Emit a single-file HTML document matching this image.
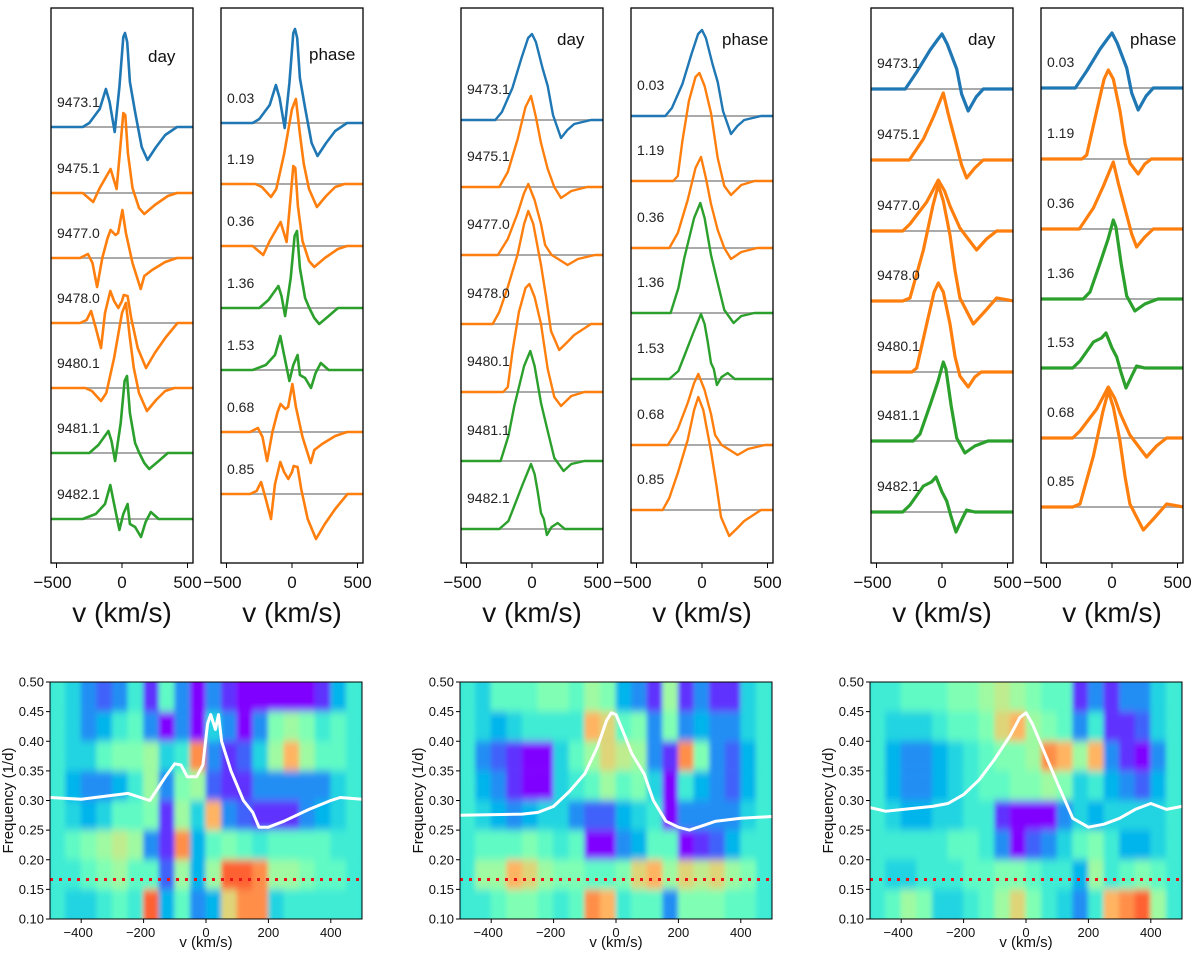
<!DOCTYPE html>
<html><head><meta charset="utf-8"><style>
html,body{margin:0;padding:0;background:#fff;}
svg{display:block;font-family:"Liberation Sans","DejaVu Sans",sans-serif;}
</style></head><body>
<svg id="fig" width="1200" height="954" viewBox="0 0 1200 954" xmlns="http://www.w3.org/2000/svg">
<defs>
<filter id="blur" x="-5%" y="-5%" width="110%" height="110%"><feGaussianBlur stdDeviation="2.5 4" edgeMode="duplicate"/></filter>
<clipPath id="clipH0"><rect x="50" y="682" width="312" height="237"/></clipPath>
<clipPath id="clipH1"><rect x="460" y="682" width="312" height="237"/></clipPath>
<clipPath id="clipH2"><rect x="870" y="682" width="312" height="237"/></clipPath>
</defs>
</svg>
<script>
// ---------- DATA ----------
const dayLabels = ["9473.1","9475.1","9477.0","9478.0","9480.1","9481.1","9482.1"];
const dayColors = ["#1f77b4","#ff7f0e","#ff7f0e","#ff7f0e","#ff7f0e","#2ca02c","#2ca02c"];
const phaseLabels = ["0.03","1.19","0.36","1.36","1.53","0.68","0.85"];
const phaseOrder = [0,4,1,5,6,2,3];
const topTicks = [-500,0,500];
const hmXTicks = [-400,-200,0,200,400];
const hmYTicks = [0.10,0.15,0.20,0.25,0.30,0.35,0.40,0.45,0.50];
const hmVelEdges = [-500,-450,-400,-350,-300,-250,-200,-150,-100,-50,0,50,100,150,200,250,300,350,400,450];
const hmFreqTops = [0.50,0.45,0.40,0.35,0.30,0.25,0.20,0.15];
const periodFreq = 0.1667;

const set1Profiles = [
 [[-540,0],[-300,0],[-250,4],[-170,18],[-123,38],[-95,25],[-56,-5],[-20,40],[10,90],[23,94],[40,85],[60,45],[100,15],[150,-20],[195,-33],[260,-20],[330,-8],[420,0],[550,0]],
 [[-540,0],[-300,0],[-220,-9],[-170,5],[-87,24],[-41,4],[-10,50],[10,80],[25,78],[45,40],[80,5],[130,-15],[170,-21],[250,-12],[350,-3],[420,0],[550,0]],
 [[-540,0],[-320,0],[-260,4],[-225,-5],[-190,-29],[-150,0],[-110,20],[-87,28],[-50,23],[-30,25],[3,48],[30,25],[80,-5],[143,-31],[170,-18],[230,-12],[330,-4],[420,0],[550,0]],
 [[-540,0],[-320,0],[-270,3],[-236,12],[-200,-5],[-160,-25],[-130,10],[-89,32],[-60,22],[-28,15],[0,22],[13,28],[43,27],[70,5],[120,-25],[183,-45],[250,-30],[330,-15],[424,0],[550,0]],
 [[-540,0],[-280,0],[-230,-3],[-160,-13],[-120,-5],[-60,30],[0,75],[30,85],[60,50],[90,20],[130,-5],[190,-23],[260,-12],[330,-3],[400,0],[550,0]],
 [[-540,0],[-250,0],[-180,8],[-104,22],[-80,12],[-53,-8],[-10,30],[20,72],[38,77],[60,40],[100,10],[132,0],[170,-10],[208,-16],[280,-8],[350,0],[550,0]],
 [[-540,0],[-300,0],[-200,5],[-130,15],[-89,34],[-60,15],[-20,-11],[10,5],[43,15],[60,-5],[100,-8],[145,-18],[180,-3],[220,7],[280,0],[550,0]]
];
const set2Profiles = [
 [[-540,0],[-280,0],[-230,8],[-150,32],[-80,62],[-30,82],[0,86],[30,78],[80,52],[120,34],[160,5],[221,-18],[270,-10],[322,-4],[450,0],[550,0]],
 [[-540,0],[-250,0],[-185,15],[-109,48],[-50,80],[-8,91],[30,70],[69,44],[120,18],[170,0],[221,-11],[300,-4],[420,0],[550,0]],
 [[-540,0],[-260,0],[-185,16],[-109,42],[-60,62],[-28,71],[20,55],[69,31],[100,10],[150,0],[200,-4],[272,-10],[350,-4],[480,0],[550,0]],
 [[-540,0],[-300,0],[-250,12],[-185,37],[-109,70],[-60,100],[-28,113],[10,100],[69,59],[110,25],[145,-7],[208,-26],[270,-18],[322,-11],[450,0],[550,0]],
 [[-540,0],[-220,0],[-185,5],[-150,40],[-100,80],[-50,104],[-20,108],[20,95],[69,68],[120,23],[170,-5],[221,-14],[300,-4],[400,0],[550,0]],
 [[-540,0],[-240,0],[-180,25],[-135,55],[-60,95],[-13,110],[20,95],[69,58],[120,30],[170,3],[241,-10],[300,-3],[400,0],[550,0]],
 [[-540,0],[-250,0],[-180,8],[-135,23],[-70,45],[-8,65],[20,55],[43,38],[69,16],[90,10],[114,-6],[150,2],[196,6],[250,0],[550,0]]
];
const set3Profiles = [
 [[-540,0],[-280,0],[-193,17],[-91,39],[-30,50],[0,55],[40,45],[112,20],[150,-5],[200,-22],[260,-8],[315,0],[550,0]],
 [[-540,0],[-250,0],[-142,21],[-66,43],[10,67],[50,45],[112,14],[150,-5],[188,-18],[250,-8],[315,0],[550,0]],
 [[-540,0],[-300,0],[-244,7],[-117,29],[-28,51],[20,40],[61,25],[137,3],[200,-8],[264,-19],[340,-8],[417,0],[550,0]],
 [[-540,0],[-300,0],[-244,3],[-142,51],[-70,95],[-28,116],[10,100],[61,66],[100,30],[137,3],[239,-23],[330,-10],[417,3],[550,0]],
 [[-540,0],[-230,0],[-193,4],[-117,48],[-60,80],[-28,89],[10,80],[61,48],[100,15],[137,-4],[200,-15],[250,-5],[300,0],[550,0]],
 [[-540,0],[-220,0],[-168,7],[-91,36],[-30,60],[10,79],[30,72],[70,35],[112,3],[175,-12],[250,-5],[350,0],[550,0]],
 [[-540,0],[-300,0],[-244,7],[-142,26],[-80,30],[-46,35],[0,20],[36,11],[70,-5],[107,-20],[150,-8],[188,2],[250,0],[550,0]]
];
const set1Mean = [[-500,.305],[-400,.302],[-250,.312],[-180,.30],[-130,.34],[-100,.362],[-80,.36],[-60,.34],[-30,.34],[-10,.36],[5,.43],[15,.445],[30,.42],[40,.445],[50,.40],[80,.35],[120,.30],[150,.28],[170,.255],[200,.255],[250,.265],[330,.285],[400,.30],[430,.305],[500,.302]];
const set2Mean = [[-500,.275],[-300,.277],[-250,.28],[-200,.29],[-150,.315],[-100,.345],[-60,.39],[-30,.435],[-15,.448],[0,.445],[20,.42],[50,.38],[90,.345],[120,.30],[160,.265],[200,.255],[235,.25],[280,.258],[320,.265],[400,.27],[500,.273]];
const set3Mean = [[-500,.288],[-450,.282],[-300,.29],[-250,.295],[-200,.31],[-150,.335],[-100,.37],[-50,.41],[-20,.44],[0,.448],[20,.43],[60,.38],[100,.33],[150,.27],[200,.255],[250,.26],[300,.27],[350,.285],[400,.295],[450,.285],[500,.29]];
const set1Power = [
 [.45,.4,.3,.25,.3,.45,.2,.5,.3,.1,.3,.2,.1,.15,.15,.15,.15,.2,.35,.45],
 [.45,.4,.3,.35,.45,.5,.3,.15,.3,.15,.4,.3,.15,.3,.55,.6,.55,.45,.5,.45],
 [.45,.4,.4,.5,.55,.55,.6,.4,.45,.8,.3,.2,.25,.4,.6,.75,.6,.5,.5,.45],
 [.45,.35,.3,.3,.35,.45,.6,.3,.55,.6,.25,.2,.2,.3,.3,.3,.3,.3,.4,.45],
 [.45,.4,.35,.4,.5,.5,.55,.2,.6,.4,.75,.3,.25,.2,.2,.2,.3,.35,.4,.45],
 [.45,.5,.55,.6,.65,.6,.3,.2,.8,.35,.5,.55,.5,.45,.5,.5,.5,.5,.45,.45],
 [.45,.45,.5,.55,.6,.5,.5,.25,.6,.35,.6,.85,.85,.8,.6,.6,.55,.5,.5,.45],
 [.45,.4,.4,.45,.5,.45,.85,.35,.5,.3,.35,.7,.8,.8,.4,.45,.45,.45,.45,.45]
];
const set2Power = [
 [.45,.4,.5,.5,.5,.55,.55,.5,.6,.55,.35,.3,.2,.6,.2,.3,.2,.2,.4,.45],
 [.45,.4,.35,.4,.45,.45,.45,.45,.75,.7,.5,.55,.3,.55,.3,.35,.3,.3,.4,.45],
 [.45,.3,.25,.2,.1,.1,.4,.5,.6,.7,.65,.6,.3,.2,.8,.55,.3,.25,.35,.45],
 [.45,.35,.3,.2,.15,.15,.4,.45,.5,.6,.5,.55,.4,.1,.45,.35,.3,.25,.35,.45],
 [.45,.4,.35,.3,.35,.4,.4,.3,.25,.25,.35,.4,.45,.15,.3,.3,.3,.3,.4,.45],
 [.45,.5,.5,.5,.55,.5,.45,.5,.1,.1,.3,.35,.5,.5,.15,.2,.25,.35,.45,.45],
 [.45,.6,.6,.75,.7,.6,.55,.55,.5,.5,.55,.7,.75,.6,.7,.65,.7,.6,.55,.45],
 [.45,.45,.5,.55,.55,.5,.45,.5,.8,.75,.45,.5,.5,.3,.55,.55,.55,.5,.5,.45]
];
const set3Power = [
 [.45,.45,.5,.5,.5,.55,.55,.6,.65,.6,.55,.5,.5,.2,.3,.2,.3,.3,.4,.45],
 [.45,.4,.4,.4,.45,.5,.5,.55,.7,.75,.6,.55,.5,.3,.45,.2,.2,.25,.4,.45],
 [.45,.35,.3,.3,.35,.4,.45,.5,.55,.55,.6,.8,.75,.6,.75,.3,.2,.15,.3,.45],
 [.45,.35,.3,.3,.35,.4,.45,.5,.5,.55,.55,.6,.55,.4,.45,.35,.3,.25,.35,.45],
 [.45,.4,.35,.35,.4,.4,.45,.45,.2,.1,.1,.15,.3,.4,.35,.4,.4,.4,.4,.45],
 [.45,.45,.45,.45,.45,.5,.5,.45,.3,.15,.25,.3,.4,.5,.55,.45,.35,.35,.4,.45],
 [.45,.4,.4,.45,.45,.45,.5,.5,.55,.55,.5,.45,.45,.35,.6,.45,.5,.55,.5,.45],
 [.45,.5,.6,.55,.4,.4,.45,.5,.6,.7,.55,.45,.4,.3,.45,.75,.8,.85,.6,.45]
];

// ---------- LAYOUT ----------
const NS = "http://www.w3.org/2000/svg";
const svg = document.getElementById("fig");
function mk(tag, attrs, parent) {
  const e = document.createElementNS(NS, tag);
  for (const k in attrs) e.setAttribute(k, attrs[k]);
  (parent || svg).appendChild(e);
  return e;
}
const layout = [
  {dayX:51, phaseX:221, dayBase:[127,193,258,323,388,453,519], phaseBase:[123,184,246,308,370,432,494], lblOff:-25, dayTxt:[148,62], phaseTxt:[309,60], width:2.6, hmX:50, profiles:set1Profiles, mean:set1Mean, power:set1Power},
  {dayX:461, phaseX:631, dayBase:[120,187,255,324,392,461,529], phaseBase:[116,181,248,313,379,445,510], lblOff:-31, dayTxt:[557,45], phaseTxt:[722,45], width:2.4, hmX:460, profiles:set2Profiles, mean:set2Mean, power:set2Power},
  {dayX:871, phaseX:1041, dayBase:[89,160,231,301,372,441,512], phaseBase:[88,159,229,299,368,438,507], lblOff:-26, dayTxt:[968,45], phaseTxt:[1130,45], width:3.2, hmX:870, profiles:set3Profiles, mean:set3Mean, power:set3Power}
];
const PW = 142, PTOP = 8, PBOT = 563;
const HW = 312, HTOP = 682, HBOT = 919;

function drawPanel(x0, bases, labels, colors, order, profs, s, kind, txtPos, si) {
  const g = mk("g", {});
  
  
  const xv = v => x0 + 71 + v * 0.131;
  const clipId = "cp" + kind + si;
  const cp = mk("clipPath", {id: clipId}, g);
  mk("rect", {x:x0, y:PTOP, width:PW, height:PBOT-PTOP}, cp);
  const inner = mk("g", {"clip-path":"url(#"+clipId+")"}, g);
  for (let i = 0; i < 7; i++) {
    const b = bases[i];
    const bl = mk("line", {x1:x0, x2:x0+PW, y1:b, y2:b, stroke:"#aaaaaa", "stroke-width":2}, inner);
    
    
  }
  for (let i = 0; i < 7; i++) {
    const b = bases[i];
    const idx = order[i];
    const pts = profs[idx].map(p => xv(p[0]).toFixed(1) + "," + (b - p[1]).toFixed(1)).join(" ");
    const pl = mk("polyline", {points:pts, fill:"none", stroke:colors[i], "stroke-width":s.width, "stroke-linejoin":"round"}, inner);
    
    
  }
  for (let i = 0; i < 7; i++) {
    const t = mk("text", {x:x0+6, y:bases[i]+s.lblOff+5, "font-size":14, fill:"#222"}, g);
    t.textContent = labels[i];
    
    
  }
  const tt = mk("text", {x:txtPos[0], y:txtPos[1], "font-size":17, fill:"#111"}, g);
  tt.textContent = kind;
  
  
  const fr = mk("rect", {x:x0, y:PTOP, width:PW, height:PBOT-PTOP, fill:"none", stroke:"#000", "stroke-width":1.3}, g);
  
  
  topTicks.forEach(v => {
    mk("line", {x1:xv(v), x2:xv(v), y1:PBOT, y2:PBOT+5, stroke:"#000", "stroke-width":1}, g);
    const tl = mk("text", {x:xv(v)-(v<0?4:0), y:PBOT+25, "font-size":17, "text-anchor":"middle", fill:"#111"}, g);
    tl.textContent = v < 0 ? "\u2212" + Math.abs(v) : String(v);
    
    
  });
  const xl = mk("text", {x:x0+71, y:622, "font-size":28, "text-anchor":"middle", fill:"#111"}, g);
  xl.textContent = "v (km/s)";
  
  
}

function cmap(x) {
  x = (x - 0.15) * 1.25;
  x = Math.max(0, Math.min(1, x));
  const r = Math.min(1, Math.abs(2*x - 0.5));
  const gg = Math.sin(Math.PI * x);
  const b = Math.cos(Math.PI * x / 2);
  return "rgb(" + Math.round(r*255) + "," + Math.round(gg*255) + "," + Math.round(b*255) + ")";
}

function drawHeat(s, si) {
  const x0 = s.hmX;
  const xv = v => x0 + (v + 500) / 1000 * HW;
  const yf = f => HBOT - (f - 0.1) / 0.4 * (HBOT - HTOP);
  const g = mk("g", {});
  
  
  const clip = mk("g", {"clip-path":"url(#clipH"+si+")"}, g);
  mk("rect", {x:x0, y:HTOP, width:HW, height:HBOT-HTOP, fill:cmap(0.4)}, clip);
  const cells = mk("g", {filter:"url(#blur)"}, clip);
  s.power.forEach((row, r) => {
    row.forEach((val, c) => {
      const x1 = xv(hmVelEdges[c]), x2 = xv(hmVelEdges[c] + 50);
      const y1 = yf(hmFreqTops[r]), y2 = yf(hmFreqTops[r] - 0.05);
      const cell = mk("rect", {x:x1-0.5, y:y1-(r===0?10:0), width:x2-x1+1, height:y2-y1+(r===0||r===7?10:0), fill:cmap(val)}, cells);
      
      
    });
  });
  const pl = mk("line", {x1:x0, x2:x0+HW, y1:yf(periodFreq), y2:yf(periodFreq), stroke:"#e8141a", "stroke-width":3, "stroke-dasharray":"3 6"}, clip);
  
  
  const pts = s.mean.map(p => xv(p[0]).toFixed(1) + "," + yf(p[1]).toFixed(1)).join(" ");
  const ml = mk("polyline", {points:pts, fill:"none", stroke:"#fff", "stroke-width":3, "stroke-linejoin":"round"}, clip);
  
  
  const fr = mk("rect", {x:x0, y:HTOP, width:HW, height:HBOT-HTOP, fill:"none", stroke:"#000", "stroke-width":1}, g);
  
  
  hmYTicks.forEach(f => {
    mk("line", {x1:x0-4, x2:x0, y1:yf(f), y2:yf(f), stroke:"#000"}, g);
    const t = mk("text", {x:x0-6, y:yf(f)+4.5, "font-size":13, "text-anchor":"end", fill:"#111"}, g);
    t.textContent = f.toFixed(2);
    
    
  });
  hmXTicks.forEach(v => {
    mk("line", {x1:xv(v), x2:xv(v), y1:HBOT, y2:HBOT+4, stroke:"#000"}, g);
    const t = mk("text", {x:xv(v)-(v<0?3:0), y:HBOT+18, "font-size":13, "text-anchor":"middle", fill:"#111"}, g);
    t.textContent = v < 0 ? "\u2212" + Math.abs(v) : String(v);
    
    
  });
  const xl = mk("text", {x:x0+HW/2, y:947, "font-size":15, "text-anchor":"middle", fill:"#111"}, g);
  xl.textContent = "v (km/s)";
  
  
  const yl = mk("text", {x:0, y:0, "font-size":15, "text-anchor":"middle", fill:"#111", transform:"translate("+(x0-37)+","+((HTOP+HBOT)/2)+") rotate(-90)"}, g);
  yl.textContent = "Frequency (1/d)";
  
  
}

const identity = [0,1,2,3,4,5,6];
const phaseColors = phaseOrder.map(i => dayColors[i]);
layout.forEach((s, si) => {
  drawPanel(s.dayX, s.dayBase, dayLabels, dayColors, identity, s.profiles, s, "day", s.dayTxt, si);
  drawPanel(s.phaseX, s.phaseBase, phaseLabels, phaseColors, phaseOrder, s.profiles, s, "phase", s.phaseTxt, si);
  drawHeat(s, si);
});
</script>
</body></html>
